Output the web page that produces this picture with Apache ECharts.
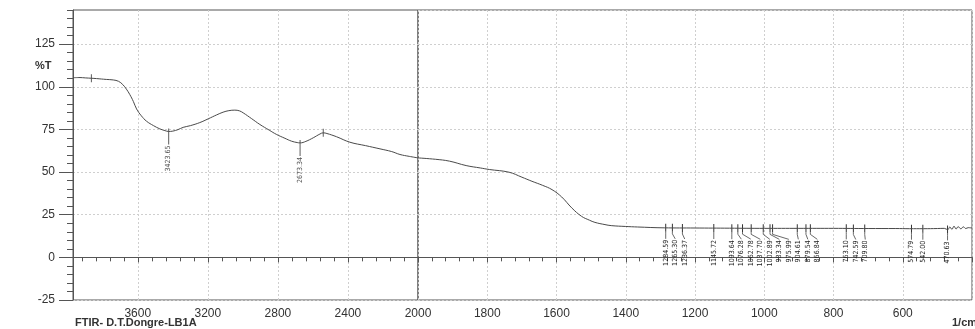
<!DOCTYPE html>
<html>
<head>
<meta charset="utf-8">
<script src="https://cdn.jsdelivr.net/npm/echarts@6/dist/echarts.min.js"></script>
<style>
  html, body { margin: 0; padding: 0; background: #fff; }
  #chart { width: 975px; height: 329px; }
</style>
</head>
<body>
<div id="chart"></div>
<script>
// spectrum: wavenumber (1/cm) and %T
const waveNumbers = [3970, 3930, 3900, 3865, 3836, 3780, 3740, 3710, 3686, 3665, 3646, 3625, 3607, 3580, 3550, 3510, 3474, 3445, 3425, 3400, 3370, 3341, 3300, 3246, 3198, 3150, 3113, 3080, 3046, 3020, 2998, 2950, 2903, 2850, 2807, 2760, 2722, 2690, 2673, 2640, 2598, 2560, 2541, 2520, 2465, 2389, 2300, 2217, 2150, 2103, 2050, 2000,
  1950, 1909, 1861, 1820, 1794, 1737, 1700, 1671, 1640, 1613, 1585, 1556, 1528, 1505, 1489, 1460, 1442, 1400, 1366, 1289, 1200, 1100, 1000, 900, 800, 700, 620, 580, 540, 500, 480, 470, 464, 458, 452, 446, 440, 432, 425, 418, 411, 400]
const transmittance = [105.3, 105.4, 105.2, 105.0, 104.8, 104.3, 104.0, 103.2, 101.3, 98.6, 95.5, 91.3, 87.0, 83.0, 79.8, 77.2, 75.3, 74.3, 73.8, 74.0, 74.9, 76.2, 77.2, 79.0, 81.2, 83.5, 85.1, 86.0, 86.3, 85.9, 84.7, 81.3, 77.9, 74.6, 72.0, 69.8, 68.1, 67.3, 67.1, 68.0, 70.1, 72.3, 73.0, 72.6, 70.7, 67.5, 65.5, 63.6, 62.0, 60.3, 59.2, 58.3,
  57.5, 56.4, 53.8, 52.4, 51.5, 49.9, 47.0, 44.6, 42.2, 39.7, 35.4, 29.0, 24.1, 21.8, 20.5, 19.2, 18.6, 18.1, 17.8, 17.3, 17.2, 17.1, 17.0, 17.0, 17.0, 16.9, 16.9, 16.8, 16.8, 16.9, 17.0, 16.2, 17.8, 16.4, 18.3, 16.6, 18.0, 16.7, 17.9, 16.9, 17.4, 17.2]

// labelled peaks
const peakWn = [3423.65, 2673.34]
const peakT = [73.8, 67.1]
const bandWn = [1284.59, 1265.30, 1236.37, 1145.72, 1093.64, 1076.28, 1062.78, 1037.70, 1002.89, 983.34, 975.99, 904.61, 879.54, 866.84, 763.10, 742.59, 709.80, 574.79, 542.00, 470.63]
const bandT = [17.3, 17.3, 17.2, 17.2, 17.1, 17.1, 17.1, 17.0, 17.0, 17.0, 17.0, 17.0, 17.0, 17.0, 17.0, 16.9, 16.9, 16.8, 16.8, 16.4]
// unlabelled marks on the trace
const markWn = [3865, 2541]
const markT = [105.0, 73.0]

const yLabels = [-25, 0, 25, 50, 75, 100, 125]

const pairs = waveNumbers.map((w, i) => [w, transmittance[i]])
const upper = pairs.filter(p => p[0] >= 2000)
const lower = pairs.filter(p => p[0] <= 2000)

const font = '"Liberation Sans", Arial, sans-serif'
const narrow = '"Liberation Sans Narrow", "DejaVu Sans Condensed", sans-serif'
const axisColor = '#555'
const gridLine = { show: true, lineStyle: { color: '#cfcfcf', type: [2, 2], width: 1 } }
const labelGap = 9.5

// band marks: tick on trace, leader, rotated label pushed apart when crowded
function renderBand (params, api) {
  const xs = bandWn.map((w, k) => api.coord([w, bandT[k]])[0])
  const lx = []
  xs.forEach((x, k) => { lx[k] = k === 0 ? x : Math.max(x, lx[k - 1] + labelGap) })
  const i = params.dataIndex
  const p = api.coord([api.value(0), api.value(1)])
  const ly = p[1] + 11
  return {
    type: 'group',
    children: [
      { type: 'rect', shape: { x: p[0] - 0.5, y: p[1] - 4, width: 1, height: 8 }, style: { fill: '#333' } },
      { type: 'polyline', shape: { points: [[p[0], p[1] + 4], [p[0], p[1] + 6], [lx[i], ly]] }, style: { stroke: '#444', lineWidth: 0.8, fill: null } },
      {
        type: 'text',
        x: lx[i],
        y: ly + 1,
        rotation: Math.PI / 2,
        style: {
          text: api.value(0).toFixed(2),
          align: 'right',
          verticalAlign: 'middle',
          font: '7px ' + narrow,
          fill: '#222'
        }
      }
    ]
  }
}

const chart = echarts.init(document.getElementById('chart'))
chart.setOption({
  animation: false,
  backgroundColor: '#fff',
  grid: [
    { left: 73, top: 10, width: 345, bottom: 29, show: true, borderColor: axisColor, borderWidth: 1 },
    { left: 418, top: 10, right: -4, bottom: 29, show: true, borderColor: axisColor, borderWidth: 1 }
  ],
  xAxis: [
    {
      gridIndex: 0,
      type: 'value',
      inverse: true,
      min: 2000,
      max: 3970,
      interval: 400,
      axisLine: { lineStyle: { color: axisColor } },
      axisTick: { length: 5, lineStyle: { color: axisColor } },
      minorTick: { show: true, splitNumber: 5, length: 4, lineStyle: { color: axisColor } },
      splitLine: gridLine,
      axisLabel: {
        color: '#333',
        fontFamily: font,
        fontSize: 12,
        margin: 8,
        formatter: v => (v % 400 === 0 && v !== 2000 ? String(v) : '')
      }
    },
    {
      gridIndex: 1,
      type: 'value',
      inverse: true,
      min: 400,
      max: 2000,
      interval: 200,
      axisLine: { lineStyle: { color: axisColor } },
      axisTick: { length: 5, lineStyle: { color: axisColor } },
      minorTick: { show: true, splitNumber: 5, length: 4, lineStyle: { color: axisColor } },
      splitLine: gridLine,
      axisLabel: {
        color: '#333',
        fontFamily: font,
        fontSize: 12,
        margin: 8,
        formatter: v => (v > 400 ? String(v) : '')
      }
    }
  ],
  yAxis: [
    {
      // minor ticks every 5 and the labels
      gridIndex: 0,
      type: 'value',
      min: -25,
      max: 145,
      interval: 5,
      axisLine: { show: true, lineStyle: { color: axisColor } },
      axisTick: { length: 6, lineStyle: { color: axisColor } },
      splitLine: { show: false },
      axisLabel: {
        color: '#333',
        fontFamily: font,
        fontSize: 12,
        margin: 18,
        formatter: v => (yLabels.indexOf(v) >= 0 ? String(v) : '')
      }
    },
    {
      // long ticks + dotted grid
      gridIndex: 0,
      type: 'value',
      min: -25,
      max: 145,
      position: 'left',
      axisLine: { show: false },
      axisTick: { show: true, length: 14, customValues: yLabels, lineStyle: { color: axisColor } },
      axisLabel: { show: false },
      splitLine: gridLine
    },
    {
      gridIndex: 1,
      type: 'value',
      min: -25,
      max: 145,
      interval: 25,
      axisLine: { show: false },
      axisTick: { show: false },
      axisLabel: { show: false },
      splitLine: gridLine
    }
  ],
  series: [
    {
      type: 'line',
      xAxisIndex: 0,
      yAxisIndex: 0,
      data: upper,
      smooth: 0.4,
      showSymbol: false,
      lineStyle: { color: '#4a4a4a', width: 1 }
    },
    {
      type: 'line',
      xAxisIndex: 1,
      yAxisIndex: 2,
      data: lower,
      smooth: 0.4,
      showSymbol: false,
      lineStyle: { color: '#4a4a4a', width: 1 }
    },
    {
      type: 'scatter',
      xAxisIndex: 0,
      yAxisIndex: 0,
      data: markWn.map((w, i) => [w, markT[i]]),
      symbol: 'rect',
      symbolSize: [1, 8],
      itemStyle: { color: '#333' }
    },
    {
      type: 'scatter',
      xAxisIndex: 0,
      yAxisIndex: 0,
      data: peakWn.map((w, i) => [w, peakT[i]]),
      symbol: 'rect',
      symbolSize: [1, 16],
      symbolOffset: [0, 5],
      itemStyle: { color: '#333' },
      label: {
        show: true,
        position: 'bottom',
        distance: 1,
        rotate: 90,
        align: 'right',
        verticalAlign: 'middle',
        fontFamily: narrow,
        fontSize: 7,
        color: '#222',
        formatter: p => p.value[0].toFixed(2)
      }
    },
    {
      type: 'custom',
      xAxisIndex: 1,
      yAxisIndex: 2,
      data: bandWn.map((w, i) => [w, bandT[i]]),
      renderItem: renderBand
    }
  ],
  graphic: [
    { type: 'text', left: 35, top: 60, style: { text: '%T', font: 'bold 11px ' + font, fill: '#333' } },
    { type: 'text', left: 75, top: 317, style: { text: 'FTIR- D.T.Dongre-LB1A', font: 'bold 11px ' + font, fill: '#333' } },
    { type: 'text', left: 952, top: 317, style: { text: '1/cm', font: 'bold 11px ' + font, fill: '#333' } }
  ]
})
</script>
</body>
</html>
